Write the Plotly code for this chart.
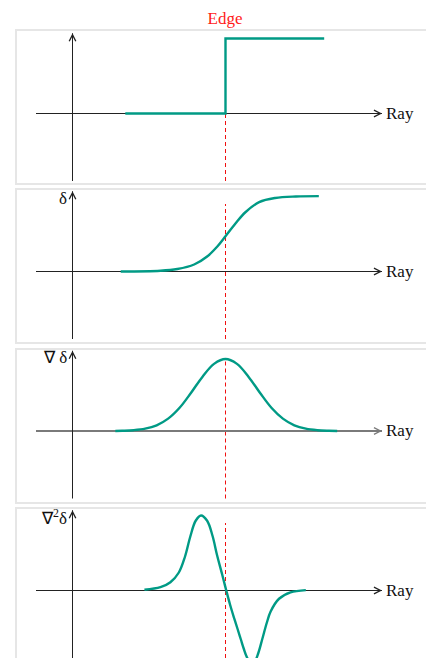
import plotly.graph_objects as go

# ---------------- data ----------------
title_text = "Edge"
axis_label = "Ray"
panel_labels = ["", "δ", "∇ δ", "∇<sup>2</sup>δ"]
edge_x = 2.0

step_x = [0.69, 2.0, 3.29]
step_y = [0.0, 1.0, 1.0]

sig_x = [0.63, 1.15, 1.37, 1.59, 1.76, 1.89, 2.0, 2.13, 2.26, 2.44, 2.65, 2.92, 3.22]
sig_y = [0.0, 0.01, 0.033, 0.093, 0.20, 0.33, 0.47, 0.64, 0.79, 0.925, 0.98, 1.0, 1.005]

grad_x = [0.56, 0.65, 0.80, 0.95, 1.10, 1.25, 1.40, 1.55, 1.70, 1.85, 2.0,
          2.15, 2.30, 2.45, 2.60, 2.75, 2.90, 3.05, 3.20, 3.35, 3.46]
grad_y = [0.0, 0.003, 0.011, 0.031, 0.076, 0.165, 0.31, 0.51, 0.725, 0.895, 0.96,
          0.895, 0.725, 0.51, 0.31, 0.165, 0.076, 0.031, 0.011, 0.003, 0.0]

lap_x = [0.94, 1.15, 1.28, 1.39, 1.47, 1.54, 1.61, 1.68, 1.76, 1.83, 1.89, 1.96, 2.01,
         2.06, 2.11, 2.16, 2.20, 2.24, 2.28, 2.33, 2.38, 2.43, 2.48, 2.54, 2.59, 2.70,
         2.85, 3.05]
lap_y = [0.01, 0.044, 0.11, 0.24, 0.45, 0.72, 0.93, 1.0, 0.93, 0.73, 0.47, 0.20, 0.0,
         -0.19, -0.36, -0.52, -0.65, -0.78, -0.89, -0.97, -0.95, -0.83, -0.65, -0.43,
         -0.28, -0.11, -0.025, 0.005]

dash_top = [0.0, 0.9, 0.96, 0.9]

# ---------------- layout geometry ----------------
W, H = 426, 658
PX_PER_X = 76.5
PX_PER_Y = 75.0
YAXIS_PX = 72.5
# panel boxes (top, bottom, zero-line) in pixels
panels = [(30, 184, 113.5), (189, 343, 271.5), (349, 503, 431), (508, 658, 590.5)]

TEAL = "#009a85"
FONT = "Liberation Serif"

def px_to_x(px):
    return (px - YAXIS_PX) / PX_PER_X

fig = go.Figure()

curves = [(step_x, step_y, "hv"), (sig_x, sig_y, "spline"),
          (grad_x, grad_y, "spline"), (lap_x, lap_y, "spline")]

layout_axes = {}
shapes = []
annotations = []

for i, ((top, bot, zero), (cx, cy, shape)) in enumerate(zip(panels, curves)):
    n = "" if i == 0 else str(i + 1)
    yname = "y" + n
    layout_axes["yaxis" + n] = dict(
        domain=[1 - bot / H, 1 - top / H],
        range=[(zero - bot) / PX_PER_Y, (zero - top) / PX_PER_Y],
        visible=False, fixedrange=True, anchor="x",
    )
    # panel border
    shapes.append(dict(type="rect", xref="paper", yref=yname + " domain",
                       x0=16 / W, x1=1.05, y0=0 if i < 3 else -0.2, y1=1,
                       line=dict(color="#e6e6e6", width=2), layer="below"))
    # red dashed edge line
    shapes.append(dict(type="line", xref="x", yref=yname,
                       x0=edge_x, x1=edge_x, y0=-0.9, y1=dash_top[i],
                       line=dict(color="#f01010", width=1, dash="4px,3px"),
                       layer="below"))
    xcol = "#7a7a7a" if i == 2 else "#222222"
    xw = 2 if i == 2 else 1
    x_tip = px_to_x(382)
    y_tip = 1.07
    # axis bodies (below the curves)
    shapes.append(dict(type="line", xref="x", yref=yname,
                       x0=px_to_x(36), x1=x_tip, y0=0, y1=0,
                       line=dict(color=xcol, width=xw), layer="below"))
    shapes.append(dict(type="line", xref="x", yref=yname,
                       x0=0, x1=0, y0=-0.9 if i < 3 else -1.5, y1=y_tip,
                       line=dict(color="#222222", width=1), layer="below"))
    # arrow heads
    annotations.append(dict(xref="x", yref=yname, axref="x", ayref=yname,
                            x=x_tip, y=0, ax=x_tip - 0.1, ay=0,
                            text="", showarrow=True, arrowhead=5,
                            arrowsize=1.3 if i != 2 else 0.65,
                            arrowwidth=xw, arrowcolor=xcol))
    annotations.append(dict(xref="x", yref=yname, axref="x", ayref=yname,
                            x=0, y=y_tip, ax=0, ay=y_tip - 0.1,
                            text="", showarrow=True, arrowhead=5, arrowsize=1.3,
                            arrowwidth=1, arrowcolor="#222222"))
    # Ray label
    annotations.append(dict(xref="x", yref=yname, x=px_to_x(384), y=0,
                            text=axis_label, showarrow=False, xanchor="left",
                            yanchor="middle",
                            font=dict(family=FONT, size=17, color="#111111")))
    if panel_labels[i]:
        annotations.append(dict(xref="x", yref=yname, x=px_to_x(69), y=0.98,
                                text=panel_labels[i], showarrow=False,
                                xanchor="right", yanchor="middle",
                                font=dict(family=FONT, size=17, color="#111111")))
    fig.add_trace(go.Scatter(x=cx, y=cy, mode="lines", yaxis=yname, xaxis="x",
                             line=dict(color=TEAL, width=2.4, shape=shape),
                             hoverinfo="skip"))

fig.update_layout(
    width=W, height=H,
    margin=dict(l=0, r=0, t=0, b=0),
    paper_bgcolor="white", plot_bgcolor="white",
    showlegend=False,
    title=dict(text=title_text, x=225 / W, y=1 - 18 / H, xanchor="center",
               yanchor="middle", font=dict(family=FONT, size=17, color="#ff1a1a")),
    xaxis=dict(domain=[0, 1], range=[px_to_x(0), px_to_x(W)], visible=False,
               fixedrange=True),
    shapes=shapes,
    annotations=annotations,
    **layout_axes,
)

fig.write_html(
    "out.html",
    config={"displayModeBar": False},
    post_script="document.body.style.margin='0';document.body.style.overflow='hidden';",
)
